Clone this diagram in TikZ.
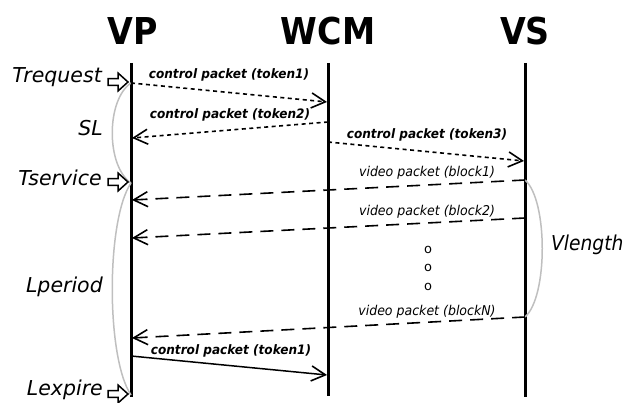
\documentclass[tikz,border=0pt]{standalone}
\usepackage{fontspec}
\usepackage{graphicx}
\setmainfont{DejaVu Sans}
\usetikzlibrary{arrows.meta}
% narrow a piece of text horizontally
\newcommand{\narrowtext}[2]{\scalebox{#1}[1]{#2}}
\tikzset{
  lifeline/.style={line width=3pt},
  title/.style={font=\fontsize{37}{40}\selectfont\bfseries, inner sep=0pt},
  sidelabel/.style={font=\fontsize{20.5}{22}\selectfont\itshape, inner sep=0pt},
  ctrllabel/.style={font=\fontsize{13}{14}\selectfont\bfseries\itshape, inner sep=0pt},
  vidlabel/.style={font=\fontsize{13.5}{14}\selectfont\itshape, inner sep=0pt},
  dotmark/.style={font=\fontsize{13}{14}\selectfont, inner sep=0pt},
  barb/.style={-{Straight Barb[length=14pt,width=15pt,line width=1.6pt]}},
  ctrlmsg/.style={barb, line width=1.6pt, dash pattern=on 4pt off 3.5pt},
  vidmsg/.style={barb, line width=1.6pt, dash pattern=on 13pt off 8pt},
  plainmsg/.style={barb, line width=1.5pt},
  span/.style={draw=black!25, line width=1.5pt},
  tarrow/.pic={
    \draw[line width=1.5pt, fill=white, line join=miter]
      (-20,-3.4) -- (-10,-3.4) -- (-10,-9) -- (0,0) -- (-10,9) -- (-10,3.4) -- (-20,3.4) -- cycle;
  }
}
\begin{document}
\begin{tikzpicture}[x=1pt,y=-1pt]
\useasboundingbox (0,0) rectangle (626,403);

% column titles
\node[title] (tvp)  at (133,31) {\narrowtext{0.9}{VP}};
\node[title] (twcm) at (328,31) {\narrowtext{0.9}{WCM}};
\node[title] (tvs)  at (525,31) {\narrowtext{0.9}{VS}};

% lifelines
\coordinate (vptop) at (131,63);   \coordinate (vpbot) at (131,397);
\coordinate (wcmtop) at (328,63);  \coordinate (wcmbot) at (328,396);
\coordinate (vstop) at (525,63);   \coordinate (vsbot) at (525,397);
\draw[lifeline] (vptop) -- (vpbot);
\draw[lifeline] (wcmtop) -- (wcmbot);
\draw[lifeline] (vstop) -- (vsbot);

% message end points
\coordinate (m1a) at (131,83);  \coordinate (m1b) at (327,102);
\coordinate (m2a) at (328,122); \coordinate (m2b) at (132,138);
\coordinate (m3a) at (328,142); \coordinate (m3b) at (524,161);
\coordinate (m4a) at (525,180); \coordinate (m4b) at (132,200);
\coordinate (m5a) at (525,218); \coordinate (m5b) at (132,238);
\coordinate (m6a) at (525,317); \coordinate (m6b) at (132,338);
\coordinate (m7a) at (131,356); \coordinate (m7b) at (327,375);

% time marks on the VP lifeline
\coordinate (treq) at (131,83);
\coordinate (tserv) at (131,183);
\coordinate (lexp) at (131,395);

% spans
\draw[span] (treq) .. controls (106,100) and (106,166) .. (tserv);
\draw[span] (tserv) .. controls (106,220) and (106,358) .. (lexp);
\draw[span] (m4a) .. controls (548,200) and (548,297) .. (m6a);

% messages
\draw[ctrlmsg] (m1a) -- (m1b);
\draw[ctrlmsg] (m2a) -- (m2b);
\draw[ctrlmsg] (m3a) -- (m3b);
\draw[vidmsg] (m4a) -- (m4b);
\draw[vidmsg] (m5a) -- (m5b);
\draw[vidmsg] (m6a) -- (m6b);
\draw[plainmsg] (m7a) -- (m7b);

% message labels
\node[ctrllabel] (l1) at (229,75)  {\narrowtext{0.93}{control packet (token1)}};
\node[ctrllabel] (l2) at (230,115) {\narrowtext{0.93}{control packet (token2)}};
\node[ctrllabel] (l3) at (427,135) {\narrowtext{0.93}{control packet (token3)}};
\node[vidlabel]  (l4) at (427,173) {\narrowtext{0.93}{video packet (block1)}};
\node[vidlabel]  (l5) at (427,212) {\narrowtext{0.93}{video packet (block2)}};
\node[vidlabel]  (l6) at (427,312) {\narrowtext{0.93}{video packet (blockN)}};
\node[ctrllabel] (l7) at (231,351) {\narrowtext{0.93}{control packet (token1)}};

% ellipsis between video packets
\node[dotmark] (d1) at (428,250) {o};
\node[dotmark] (d2) at (428,268) {o};
\node[dotmark] (d3) at (428,287) {o};

% time mark arrows
\pic at (128,82) {tarrow};
\pic at (128,182) {tarrow};
\pic at (128,394) {tarrow};

% side labels
\node[sidelabel, anchor=east] (ltreq)  at (102,77)  {Trequest};
\node[sidelabel, anchor=east] (lsl)    at (103,128) {SL};
\node[sidelabel, anchor=east] (ltserv) at (102,178) {Tservice};
\node[sidelabel, anchor=east] (lper)   at (103,287) {Lperiod};
\node[sidelabel, anchor=east] (lexpt)  at (103,390) {Lexpire};
\node[sidelabel, anchor=west] (lvlen)  at (551,245) {\narrowtext{0.91}{Vlength}};
\end{tikzpicture}
\end{document}
